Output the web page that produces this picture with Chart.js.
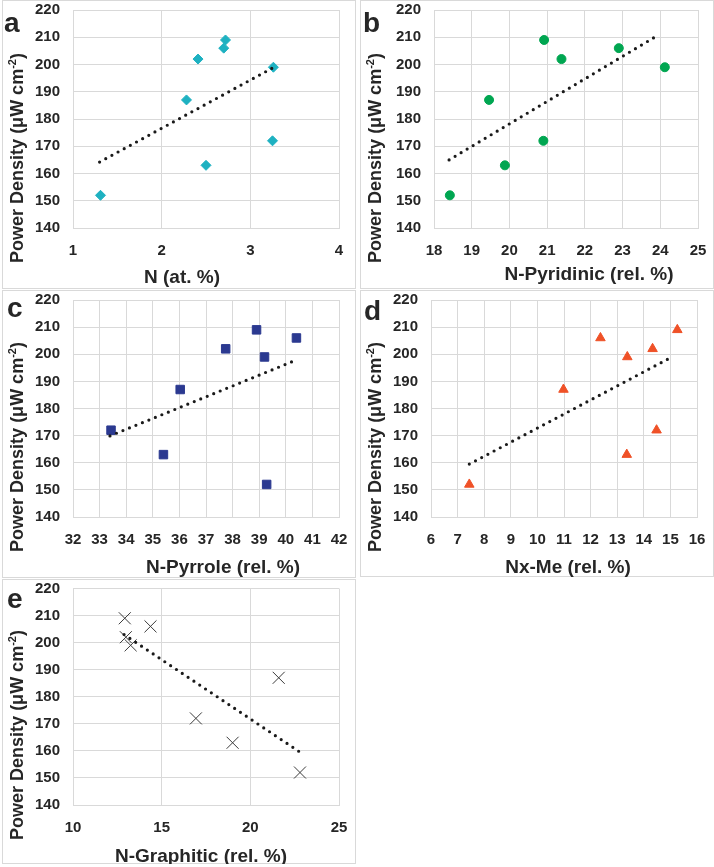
<!DOCTYPE html>
<html>
<head>
<meta charset="utf-8">
<script src="https://cdn.jsdelivr.net/npm/chart.js@4/dist/chart.umd.min.js"></script>
<style>
  body { margin: 0; background: #fff; width: 714px; height: 867px; position: relative; overflow: hidden; }
  .panel { position: absolute; border: 1px solid #d9d9d9; box-sizing: border-box; }
  .panel canvas { position: absolute; left: -1px; top: -1px; }
</style>
</head>
<body>
<div class="panel" id="pa"><canvas id="ca"></canvas></div>
<div class="panel" id="pb"><canvas id="cb"></canvas></div>
<div class="panel" id="pc"><canvas id="cc"></canvas></div>
<div class="panel" id="pd"><canvas id="cd"></canvas></div>
<div class="panel" id="pe"><canvas id="ce"></canvas></div>
<script>
// same 8 samples in every panel
const powerDensity = [152, 163, 172, 187, 199, 202, 206, 209];
const nTotal      = [1.31, 2.50, 3.25, 2.28, 3.26, 2.41, 2.70, 2.72];
const nPyridinic  = [18.42, 19.88, 20.90, 19.46, 24.12, 21.38, 22.90, 20.92];
const nPyrrole    = [39.28, 35.40, 33.43, 36.03, 39.20, 37.74, 40.40, 38.90];
const nxMe        = [7.44, 13.36, 14.48, 10.98, 13.38, 14.33, 12.37, 15.26];
const nGraphitic  = [22.80, 19.00, 16.93, 21.60, 13.25, 12.98, 14.37, 12.92];

// trendline end points
const trendAx = [1.30, 3.26],   trendAy = [164.2, 198.9];
const trendBx = [18.40, 23.97], trendBy = [165.0, 211.0];
const trendCx = [33.39, 40.30], trendCy = [169.9, 197.5];
const trendDx = [7.44, 15.02],  trendDy = [159.5, 198.8];
const trendEx = [12.88, 22.90], trendEy = [203.0, 159.1];

// tick labels
const yTicks  = [140, 150, 160, 170, 180, 190, 200, 210, 220];
const xTicksA = [1, 2, 3, 4];
const xTicksB = [18, 19, 20, 21, 22, 23, 24, 25];
const xTicksC = [32, 33, 34, 35, 36, 37, 38, 39, 40, 41, 42];
const xTicksD = [6, 7, 8, 9, 10, 11, 12, 13, 14, 15, 16];
const xTicksE = [10, 15, 20, 25];

const FONT = '"Liberation Sans", Arial, sans-serif';
const GRID = '#d9d9d9';
const TEXT = '#262626';

const panelText = {
  id: 'panelText',
  afterDraw(chart, args, o) {
    const ctx = chart.ctx;
    ctx.save();
    ctx.fillStyle = TEXT;
    ctx.textBaseline = 'alphabetic';
    ctx.font = 'bold 28px ' + FONT;
    ctx.textAlign = 'left';
    ctx.fillText(o.letter, o.letterX, o.letterY);

    ctx.font = 'bold 19px ' + FONT;
    ctx.textAlign = 'center';
    ctx.fillText(o.xTitle, o.xTitleX, o.xTitleY);

    // y title with superscript
    const big = 'bold 18px ' + FONT, small = 'bold 11px ' + FONT;
    const p1 = 'Power Density (\u03bcW cm', p2 = '-2', p3 = ')';
    ctx.font = big;
    const w1 = ctx.measureText(p1).width, w3 = ctx.measureText(p3).width;
    ctx.font = small;
    const w2 = ctx.measureText(p2).width;
    ctx.translate(o.yTitleX, o.yTitleY);
    ctx.rotate(-Math.PI / 2);
    ctx.textAlign = 'left';
    let x = -(w1 + w2 + w3) / 2;
    ctx.font = big; ctx.fillText(p1, x, 0); x += w1;
    ctx.font = small; ctx.fillText(p2, x, -7); x += w2;
    ctx.font = big; ctx.fillText(p3, x, 0);
    ctx.restore();
  }
};

function makePanel(id, box, plot, xs, xTicks, tx, ty, marker, text) {
  const div = document.getElementById('p' + id);
  div.style.left = box.left + 'px';
  div.style.top = box.top + 'px';
  div.style.width = box.w + 'px';
  div.style.height = box.h + 'px';
  const cv = document.getElementById('c' + id);
  cv.width = box.w; cv.height = box.h;
  cv.style.width = box.w + 'px'; cv.style.height = box.h + 'px';

  const pts = xs.map((v, i) => ({ x: v, y: powerDensity[i] }));
  const trend = tx.map((v, i) => ({ x: v, y: ty[i] }));

  // wanted plot area, canvas coordinates
  const want = { left: plot.left - box.left, right: plot.right - box.left, top: plot.top - box.top, bottom: plot.bottom - box.top };
  const fit = { yw: want.left, xh: box.h - want.bottom };
  const padding = { left: 0, top: want.top, right: box.w - want.right, bottom: 0 };

  const ch = new Chart(cv, {
    type: 'scatter',
    data: {
      datasets: [
        {
          data: trend, showLine: true, pointRadius: 0,
          borderColor: '#1a1a1a', borderWidth: 3.2, borderDash: [0, 7],
          borderCapStyle: 'round', order: 0
        },
        Object.assign({ data: pts, order: 1 }, marker)
      ]
    },
    options: {
      responsive: false,
      animation: false,
      layout: { padding: padding },
      plugins: {
        legend: { display: false },
        tooltip: { enabled: false },
        panelText: text
      },
      scales: {
        x: {
          type: 'linear',
          min: xTicks[0], max: xTicks[xTicks.length - 1],
          afterBuildTicks: s => { s.ticks = xTicks.map(v => ({ value: v })); },
          afterFit: s => { s.height = fit.xh; },
          grid: { color: GRID, tickLength: 14, tickColor: 'rgba(0,0,0,0)' },
          border: { color: GRID },
          ticks: { padding: 0, color: TEXT, font: { family: FONT, size: 15, weight: 'bold' }, maxRotation: 0, autoSkip: false }
        },
        y: {
          min: yTicks[0], max: yTicks[yTicks.length - 1],
          afterBuildTicks: s => { s.ticks = yTicks.map(v => ({ value: v })); },
          afterFit: s => { s.width = fit.yw; },
          grid: { color: GRID, tickLength: 13, tickColor: 'rgba(0,0,0,0)' },
          border: { color: GRID },
          ticks: { padding: 0, color: TEXT, font: { family: FONT, size: 15, weight: 'bold' } }
        }
      }
    },
    plugins: [panelText]
  });

  // nudge the plot area onto the wanted rectangle
  for (let k = 0; k < 3; k++) {
    const a = ch.chartArea;
    padding.top += want.top - a.top;
    padding.right += a.right - want.right;
    fit.yw += want.left - a.left;
    fit.xh += a.bottom - want.bottom;
    ch.update();
  }
}

makePanel('a', { left: 2, top: 0, w: 354, h: 289 }, { left: 73, right: 339, top: 10, bottom: 228 },
  nTotal, xTicksA, trendAx, trendAy,
  { pointStyle: 'rectRot', pointRadius: 5, pointBackgroundColor: '#1eb1c1', pointBorderColor: '#1eb1c1', pointBorderWidth: 1 },
  { letter: 'a', letterX: 2, letterY: 32, xTitle: 'N (at. %)', xTitleX: 180, xTitleY: 283, yTitleX: 21, yTitleY: 158 });

makePanel('b', { left: 360, top: 0, w: 354, h: 289 }, { left: 434, right: 698, top: 10, bottom: 228 },
  nPyridinic, xTicksB, trendBx, trendBy,
  { pointStyle: 'circle', pointRadius: 4.5, pointBackgroundColor: '#00a651', pointBorderColor: '#00a651', pointBorderWidth: 1 },
  { letter: 'b', letterX: 3, letterY: 32, xTitle: 'N-Pyridinic (rel. %)', xTitleX: 229, xTitleY: 280, yTitleX: 21, yTitleY: 158 });

makePanel('c', { left: 2, top: 290, w: 354, h: 288 }, { left: 73, right: 339, top: 300, bottom: 517 },
  nPyrrole, xTicksC, trendCx, trendCy,
  { pointStyle: 'rect', pointRadius: 6, pointBackgroundColor: '#2b3990', pointBorderColor: '#2b3990', pointBorderWidth: 1 },
  { letter: 'c', letterX: 5, letterY: 27, xTitle: 'N-Pyrrole (rel. %)', xTitleX: 221, xTitleY: 283, yTitleX: 21, yTitleY: 157 });

makePanel('d', { left: 360, top: 290, w: 354, h: 287 }, { left: 431, right: 697, top: 300, bottom: 517 },
  nxMe, xTicksD, trendDx, trendDy,
  { pointStyle: 'triangle', pointRadius: 5.5, pointBackgroundColor: '#ef5127', pointBorderColor: '#ef5127', pointBorderWidth: 1 },
  { letter: 'd', letterX: 4, letterY: 30, xTitle: 'Nx-Me (rel. %)', xTitleX: 208, xTitleY: 283, yTitleX: 21, yTitleY: 157 });

makePanel('e', { left: 2, top: 579, w: 354, h: 285 }, { left: 73, right: 339, top: 588, bottom: 805 },
  nGraphitic, xTicksE, trendEx, trendEy,
  { pointStyle: 'crossRot', pointRadius: 8.5, pointBorderColor: '#3a3a3a', pointBorderWidth: 1 },
  { letter: 'e', letterX: 5, letterY: 29, xTitle: 'N-Graphitic (rel. %)', xTitleX: 199, xTitleY: 283, yTitleX: 21, yTitleY: 156 });
</script>
</body>
</html>
